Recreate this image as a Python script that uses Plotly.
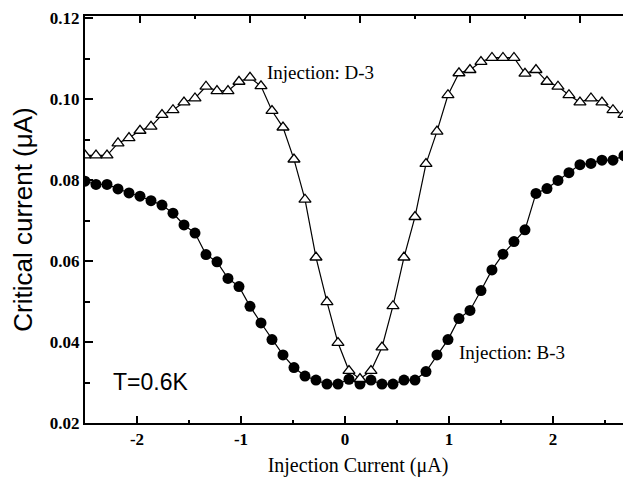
import plotly.graph_objects as go

# Injection current (uA)
x_current = [-2.5, -2.4, -2.3, -2.2, -2.1, -2.0, -1.9, -1.8, -1.7, -1.6,
             -1.5, -1.4, -1.3, -1.2, -1.1, -1.0, -0.9, -0.8, -0.7, -0.6,
             -0.5, -0.4, -0.3, -0.2, -0.1, 0.0, 0.1, 0.2, 0.3, 0.4,
             0.5, 0.6, 0.7, 0.8, 0.9, 1.0, 1.1, 1.2, 1.3, 1.4,
             1.5, 1.6, 1.7, 1.8, 1.9, 2.0, 2.1, 2.2, 2.3, 2.4, 2.5]

# Critical current (uA), injection D-3 (open triangles)
ic_d3 = [0.0861, 0.0861, 0.0861, 0.0891, 0.0904, 0.0922, 0.0932, 0.0961, 0.0973, 0.0992,
         0.1002, 0.1031, 0.1020, 0.1020, 0.1043, 0.1053, 0.1032, 0.0971, 0.0930, 0.0851,
         0.0752, 0.0609, 0.0499, 0.0398, 0.0329, 0.0309, 0.0329, 0.0387, 0.0489, 0.0609,
         0.0709, 0.0840, 0.0920, 0.1010, 0.1064, 0.1072, 0.1092, 0.1102, 0.1102, 0.1102,
         0.1063, 0.1072, 0.1043, 0.1031, 0.1010, 0.0992, 0.1002, 0.0992, 0.0973, 0.0961, 0.0937]

# Critical current (uA), injection B-3 (filled circles)
ic_b3 = [0.0797, 0.0789, 0.0789, 0.0778, 0.0768, 0.0760, 0.0749, 0.0738, 0.0718, 0.0689,
         0.0669, 0.0616, 0.0598, 0.0557, 0.0537, 0.0488, 0.0447, 0.0406, 0.0368, 0.0337,
         0.0316, 0.0306, 0.0296, 0.0296, 0.0308, 0.0296, 0.0306, 0.0296, 0.0296, 0.0306,
         0.0306, 0.0327, 0.0368, 0.0406, 0.0458, 0.0478, 0.0527, 0.0578, 0.0617, 0.0648,
         0.0677, 0.0767, 0.0779, 0.0799, 0.0818, 0.0838, 0.0841, 0.0849, 0.0849, 0.0860, 0.0862]

x_tick_vals = [-2, -1, 0, 1, 2]
x_tick_labels = ["-2", "-1", "0", "1", "2"]
y_tick_vals = [0.02, 0.04, 0.06, 0.08, 0.10, 0.12]
y_tick_labels = ["0.02", "0.04", "0.06", "0.08", "0.10", "0.12"]

SERIF = "Liberation Serif, Times New Roman, serif"
SANS = "Liberation Sans, Arial, sans-serif"

fig = go.Figure()
# empty trace so the labelled bottom axis subplot is created
fig.add_trace(go.Scatter(x=[], y=[], xaxis="x", yaxis="y", mode="markers",
                         showlegend=False, hoverinfo="skip"))
fig.add_trace(go.Scatter(
    x=x_current, y=ic_b3, xaxis="x2", yaxis="y", mode="lines+markers",
    line=dict(color="black", width=1.2),
    marker=dict(symbol="circle", size=11, color="black"),
    name="Injection: B-3", showlegend=False))
fig.add_trace(go.Scatter(
    x=x_current, y=ic_d3, xaxis="x2", yaxis="y", mode="lines+markers",
    line=dict(color="black", width=1.2),
    marker=dict(symbol="triangle-up", size=10.5, color="white",
                line=dict(color="black", width=1.3)),
    name="Injection: D-3", showlegend=False))

# the page body has an 8 px default margin, so the figure is 8 px smaller
fig.update_layout(
    width=623, height=479,
    margin=dict(l=77, r=0, t=8, b=64, autoexpand=False),
    paper_bgcolor="white", plot_bgcolor="white",
    xaxis=dict(
        range=[-2.5, 2.75], showline=True, linecolor="black", linewidth=2,
        automargin=False,
        ticks="inside", ticklen=7, tickwidth=2, tickcolor="black",
        tickvals=x_tick_vals, ticktext=x_tick_labels, ticklabelstandoff=0,
        minor=dict(ticks="inside", ticklen=3, tickwidth=2, tickcolor="black", dtick=0.5, tick0=0),
        showgrid=False, zeroline=False,
        tickfont=dict(family=SERIF, size=17, color="black", weight="bold"),
        title=dict(text="Injection Current (μA)", standoff=10,
                   font=dict(family=SERIF, size=20, color="black")),
    ),
    xaxis2=dict(
        range=[-2.5, 2.464], overlaying="x", side="top", anchor="y",
        automargin=False,
        showline=True, linecolor="black", linewidth=2,
        ticks="inside", ticklen=7, tickwidth=2, tickcolor="black",
        dtick=1, tick0=0, showticklabels=False,
        minor=dict(ticks="inside", ticklen=3, tickwidth=2, tickcolor="black", dtick=0.5, tick0=0),
        showgrid=False, zeroline=False,
    ),
    yaxis=dict(
        range=[0.02, 0.1205], showline=True, linecolor="black", linewidth=2, mirror="ticks",
        automargin=False,
        ticks="inside", ticklen=8, tickwidth=2, tickcolor="black",
        tickvals=y_tick_vals, ticktext=y_tick_labels,
        minor=dict(ticks="inside", ticklen=5, tickwidth=2, tickcolor="black", dtick=0.01, tick0=0),
        showgrid=False, zeroline=False,
        tickfont=dict(family=SERIF, size=17, color="black", weight="bold"),
        title=dict(text="Critical current (μA)", standoff=16,
                   font=dict(family=SANS, size=26, color="black")),
    ),
    annotations=[
        dict(text="Injection: D-3", x=-0.864, y=0.1065, xref="x2", yref="y",
             xanchor="left", yanchor="middle", showarrow=False,
             font=dict(family=SERIF, size=19, color="black")),
        dict(text="Injection: B-3", x=0.882, y=0.0373, xref="x2", yref="y",
             xanchor="left", yanchor="middle", showarrow=False,
             font=dict(family=SERIF, size=19, color="black")),
        dict(text="T=0.6K", x=-2.266, y=0.0302, xref="x2", yref="y",
             xanchor="left", yanchor="middle", showarrow=False,
             font=dict(family=SANS, size=23, color="black")),
    ],
)

fig.write_html("out.html")
